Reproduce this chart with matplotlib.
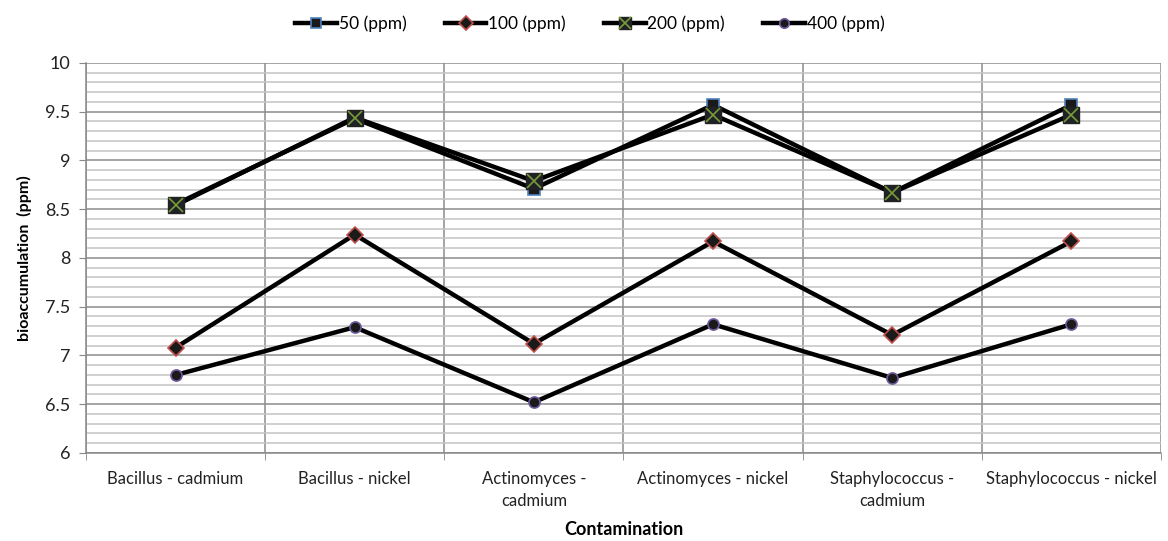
import matplotlib
matplotlib.use("Agg")
import matplotlib.pyplot as plt
from matplotlib.ticker import MultipleLocator, FixedLocator
from matplotlib.legend_handler import HandlerTuple

plt.rcParams['font.family'] = ['Lato', 'DejaVu Sans']

categories = ["Bacillus - cadmium", "Bacillus - nickel", "Actinomyces -\ncadmium",
              "Actinomyces - nickel", "Staphylococcus -\ncadmium", "Staphylococcus - nickel"]
ppm_50 = [8.55, 9.43, 8.71, 9.57, 8.67, 9.57]
ppm_100 = [7.08, 8.24, 7.12, 8.17, 7.21, 8.17]
ppm_200 = [8.54, 9.44, 8.79, 9.47, 8.67, 9.47]
ppm_400 = [6.80, 7.29, 6.52, 7.32, 6.77, 7.32]
series_labels = ["50 (ppm)", "100 (ppm)", "200 (ppm)", "400 (ppm)"]

fig = plt.figure(figsize=(11.68, 5.41), dpi=100)
ax = fig.add_axes([0.0736, 0.1627, 0.9204, 0.7209])

x = list(range(len(categories)))
lw = 3.2

h50, = ax.plot(x, ppm_50, color='black', lw=lw, marker='s', ms=8,
               mfc='#1a1a1a', mec='#4f81bd', mew=1.2, zorder=4)
h100, = ax.plot(x, ppm_100, color='black', lw=lw, marker='D', ms=8,
                mfc='#1a1a1a', mec='#c0504d', mew=1.2, zorder=4)
h200, = ax.plot(x, ppm_200, color='black', lw=lw, marker='s', ms=11,
                mfc='#1f2326', mec='#222222', mew=1.0, zorder=5)
h200x, = ax.plot(x, ppm_200, ls='none', marker='x', ms=10,
                 mec='#7a9a3a', mew=1.2, zorder=6)
h400, = ax.plot(x, ppm_400, color='black', lw=lw, marker='o', ms=8,
                mfc='#1a1a1a', mec='#6f5a9e', mew=1.2, zorder=4)

ax.set_xlim(-0.5, len(categories) - 0.5)
ax.set_ylim(6, 10)

ax.yaxis.set_minor_locator(MultipleLocator(0.1))
ax.set_yticks([6, 6.5, 7, 7.5, 8, 8.5, 9, 9.5, 10])
ax.set_yticklabels(['6', '6.5', '7', '7.5', '8', '8.5', '9', '9.5', '10'])

ax.set_xticks(x)
ax.set_xticklabels(categories, fontsize=12, color='#222222', linespacing=1.45)
ax.xaxis.set_minor_locator(FixedLocator([i + 0.5 for i in range(-1, len(categories))]))
ax.tick_params(axis='x', which='major', length=0, pad=13)
ax.tick_params(axis='x', which='minor', length=5, color='#888888', direction='out')
ax.tick_params(axis='y', which='major', length=5, color='#888888', labelsize=13,
               labelcolor='#222222', pad=6)
ax.tick_params(axis='y', which='minor', length=0)

ax.grid(True, axis='y', which='major', color='#8c8c8c', lw=1.1)
ax.grid(True, axis='y', which='minor', color='#c4c4c4', lw=1.1)
ax.grid(True, axis='x', which='minor', color='#8c8c8c', lw=1.1)
ax.grid(False, axis='x', which='major')
ax.set_axisbelow(True)

for side in ['top', 'right']:
    ax.spines[side].set_visible(False)
for side in ['left', 'bottom']:
    ax.spines[side].set_color('#888888')
    ax.spines[side].set_linewidth(1.1)

ax.set_ylabel('bioaccumulation  (ppm)', fontsize=11.5, fontweight='bold', labelpad=10)
ax.set_xlabel('Contamination', fontsize=13, fontweight='bold', labelpad=9)

leg = fig.legend([h50, h100, (h200, h200x), h400], series_labels,
                 handler_map={tuple: HandlerTuple(ndivide=1, pad=0)},
                 loc='upper center', bbox_to_anchor=(0.505, 1.0), ncol=4,
                 frameon=False, fontsize=12.5, handlelength=2.4, handletextpad=0.1,
                 columnspacing=2.2, markerscale=0.85)

fig.savefig('out.png', dpi=100)
